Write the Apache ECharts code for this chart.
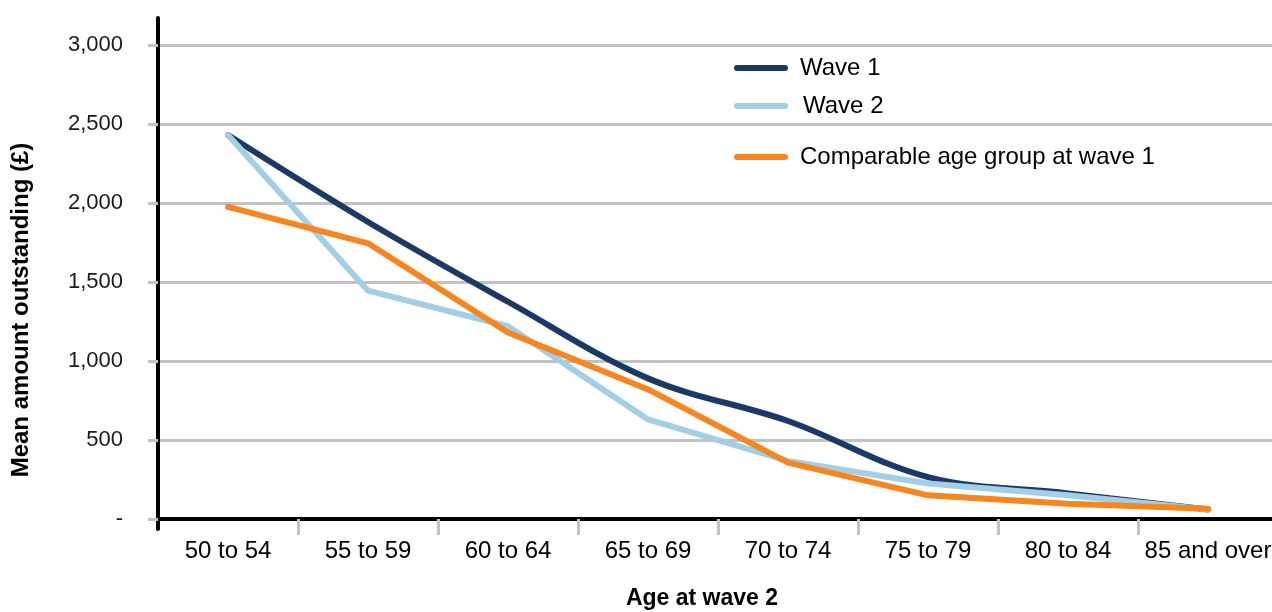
<!DOCTYPE html>
<html>
<head>
<meta charset="utf-8">
<title>Mean amount outstanding by age</title>
<script src="https://cdn.jsdelivr.net/npm/echarts@6/dist/echarts.min.js"></script>
<style>
  html, body { margin: 0; padding: 0; background: #ffffff; overflow: hidden; width: 1272px; height: 612px; }
  /* the plot runs slightly past the right edge of the page */
  #chart { width: 1280px; height: 612px; }
</style>
</head>
<body>
<div id="chart"></div>
<script>
// Age bands at wave 2
const categories = ['50 to 54', '55 to 59', '60 to 64', '65 to 69', '70 to 74', '75 to 79', '80 to 84', '85 and over'];

// Mean amount outstanding (£)
const wave1 = [2430, 1880, 1375, 890, 620, 265, 162, 60];
const wave2 = [2430, 1445, 1220, 630, 368, 225, 150, 60];
const comparableWave1 = [1975, 1745, 1180, 820, 357, 150, 97, 65];

// Value axis ticks
const yTicks = [0, 500, 1000, 1500, 2000, 2500, 3000];

const FONT = '"Liberation Sans", Arial, sans-serif';
const NAVY = '#1b3966';
const LIGHT = '#a3cfe6';
const ORANGE = '#f58620';
const GRIDGREY = '#c2c2c2';

const capsule = 'path://M3,0 L51,0 A3,3 0 0 1 51,6 L3,6 A3,3 0 0 1 3,0 Z';

function legendFor(name, top, gap) {
  return {
    data: [name],
    left: 734,
    top: top,
    padding: 0,
    icon: capsule,
    itemWidth: 54,
    itemHeight: 6,
    selectedMode: false,
    textStyle: {
      fontFamily: FONT,
      fontSize: 24,
      color: '#000',
      lineHeight: 26,
      padding: [0, 0, 0, gap]
    }
  };
}

const chart = echarts.init(document.getElementById('chart'), null, { renderer: 'canvas' });

chart.setOption({
  backgroundColor: '#ffffff',
  animation: false,
  legend: [
    legendFor('Wave 1', 55, 7),
    legendFor('Wave 2', 93, 10),
    legendFor('Comparable age group at wave 1', 144, 7)
  ],
  grid: [
    { left: 158, top: 45, width: 1120, bottom: 93, containLabel: false },
    // carries the taller vertical axis rule
    { left: 158, top: 18, width: 10, bottom: 83, containLabel: false }
  ],
  xAxis: [
    {
      type: 'category',
      gridIndex: 0,
      data: categories,
      boundaryGap: true,
      axisLine: { show: true, lineStyle: { color: '#000', width: 4 } },
      axisTick: {
        show: true,
        length: 16,
        interval: function (i) { return i !== 0; },
        lineStyle: { color: GRIDGREY, width: 3 }
      },
      axisLabel: {
        margin: 20,
        fontFamily: FONT,
        fontSize: 24,
        color: '#000',
        interval: 0
      },
      splitLine: { show: false }
    },
    { type: 'value', gridIndex: 1, show: false }
  ],
  yAxis: [
    {
      type: 'value',
      gridIndex: 0,
      min: yTicks[0],
      max: yTicks[yTicks.length - 1],
      interval: yTicks[1] - yTicks[0],
      axisLine: { show: false },
      axisTick: { show: true, length: 10, lineStyle: { color: GRIDGREY, width: 3 } },
      axisLabel: {
        margin: 35,
        fontFamily: FONT,
        fontSize: 22,
        color: '#1a1a1a',
        formatter: function (v) {
          return v === 0 ? '-' : v.toLocaleString('en-GB');
        }
      },
      splitLine: { show: true, lineStyle: { color: GRIDGREY, width: 3 } }
    },
    {
      type: 'value',
      gridIndex: 1,
      axisLine: { show: true, lineStyle: { color: '#000', width: 4 } },
      axisTick: { show: false },
      axisLabel: { show: false },
      splitLine: { show: false }
    }
  ],
  graphic: [
    {
      type: 'text',
      x: 702,
      y: 599,
      style: {
        text: 'Age at wave 2',
        font: 'bold 23px ' + FONT,
        fill: '#000',
        textAlign: 'center',
        textVerticalAlign: 'middle'
      }
    },
    {
      type: 'text',
      x: 21,
      y: 310,
      rotation: Math.PI / 2,
      style: {
        text: 'Mean amount outstanding (£)',
        font: 'bold 24px ' + FONT,
        fill: '#000',
        textAlign: 'center',
        textVerticalAlign: 'middle'
      }
    }
  ],
  series: [
    {
      name: 'Wave 1',
      type: 'line',
      xAxisIndex: 0,
      yAxisIndex: 0,
      data: wave1,
      smooth: 0.35,
      showSymbol: false,
      symbol: 'none',
      color: NAVY,
      lineStyle: { color: NAVY, width: 6, cap: 'round', join: 'round' }
    },
    {
      name: 'Wave 2',
      type: 'line',
      xAxisIndex: 0,
      yAxisIndex: 0,
      data: wave2,
      showSymbol: false,
      symbol: 'none',
      color: LIGHT,
      lineStyle: { color: LIGHT, width: 6, cap: 'round', join: 'round' }
    },
    {
      name: 'Comparable age group at wave 1',
      type: 'line',
      xAxisIndex: 0,
      yAxisIndex: 0,
      data: comparableWave1,
      showSymbol: false,
      symbol: 'none',
      color: ORANGE,
      lineStyle: { color: ORANGE, width: 6, cap: 'round', join: 'round' }
    }
  ]
});
</script>
</body>
</html>
